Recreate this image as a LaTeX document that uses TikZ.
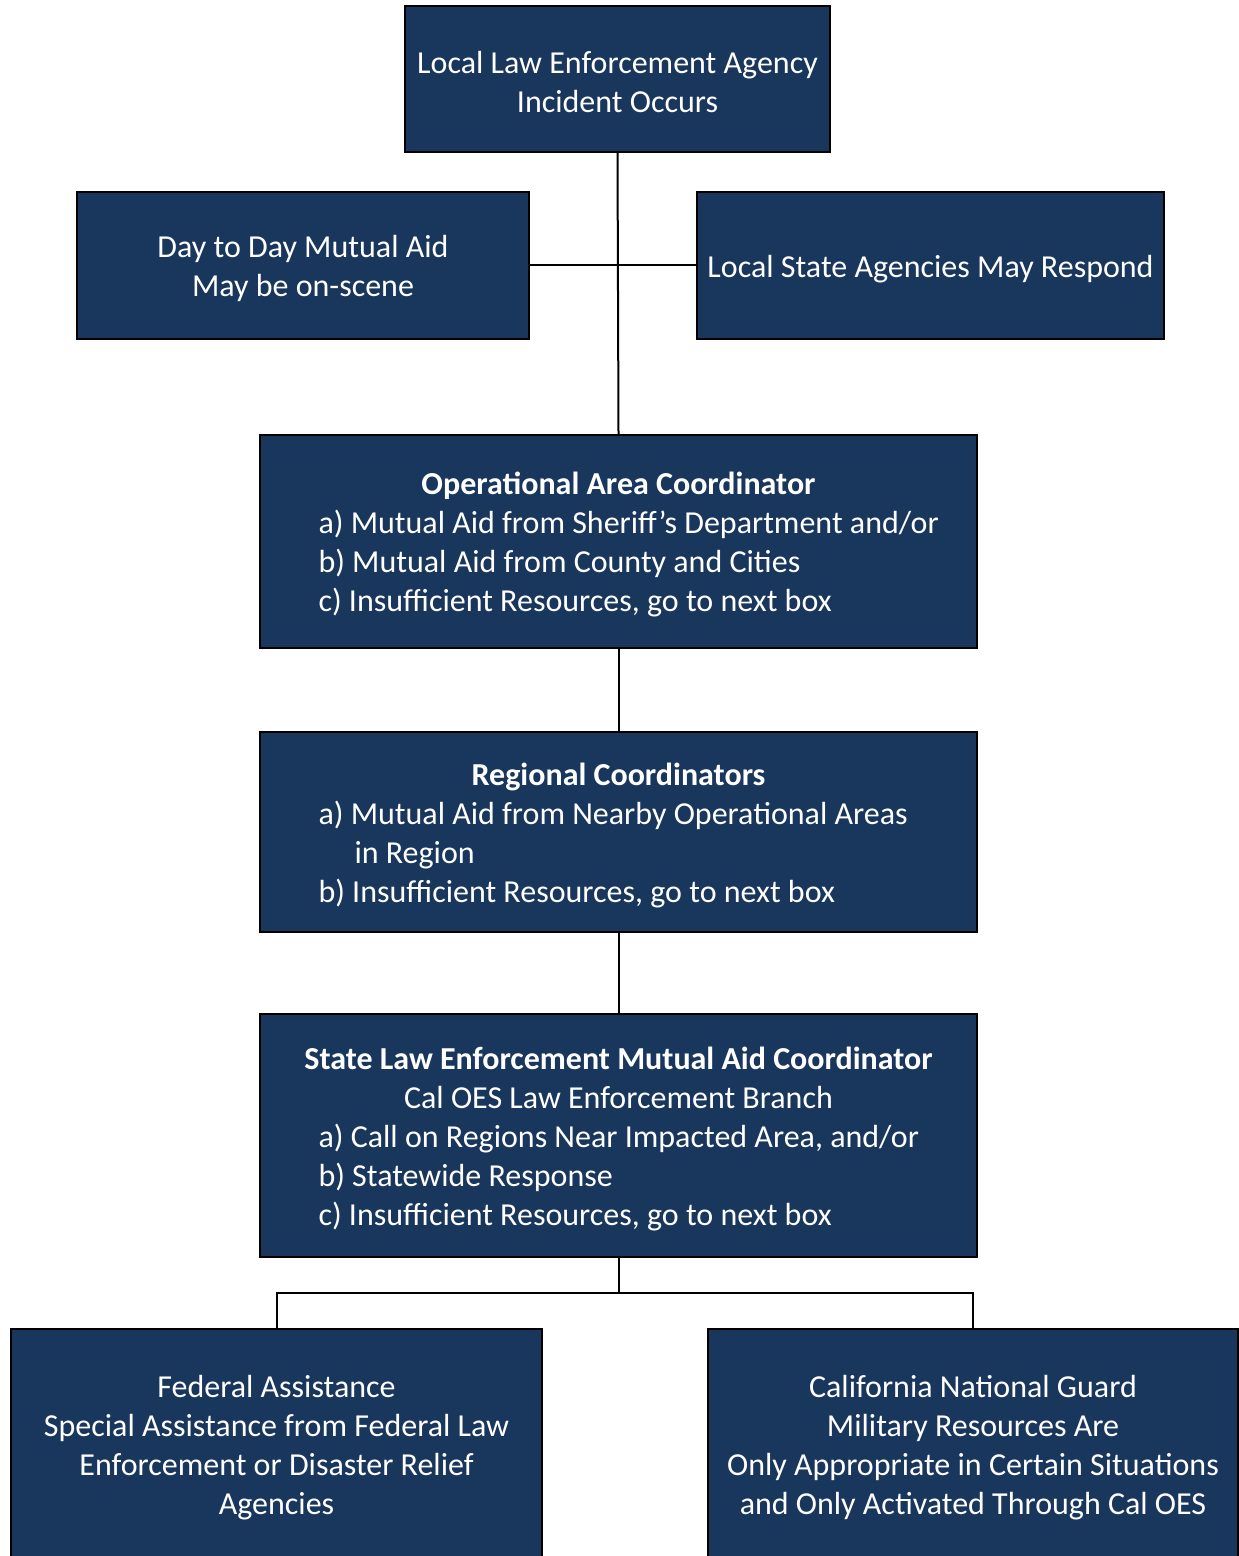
\documentclass[tikz,border=0pt]{standalone}
\usepackage{fontspec}
\setmainfont{Carlito}
\definecolor{navy}{RGB}{25,54,93}

\begin{document}
\begin{tikzpicture}[x=0.5pt,y=-0.5pt,%
        box/.style={rectangle, draw=black, line width=1.2pt, fill=navy,%
                        text=white, inner sep=0pt, align=center,%
                        font=\fontsize{16}{19.5}\selectfont,%
                        execute at begin node={\spaceskip=\fontdimen2\font%
                            \xspaceskip=\fontdimen2\font\rule{0pt}{14.5pt}}},
        list/.style={box, align=left, text width=300pt},
        link/.style={draw=black, line width=1pt}]
    \useasboundingbox (0,0) rectangle (1238,1556);
    % top row
    \node[box, text width=205pt, minimum width=212.5pt, minimum height=73pt] (inc) at (617.5,79)
        {Local Law Enforcement Agency\\Incident Occurs};
    \node[box, text width=215pt, minimum width=226pt, minimum height=73.5pt] (day) at (303,265.5)
        {Day to Day Mutual Aid\\May be on-scene};
    \node[box, text width=228pt, minimum width=233.5pt, minimum height=73.5pt] (lsa) at (930.5,265.5)
        {Local State Agencies May Respond};
    % coordinators
    \node[list, minimum width=358.5pt, minimum height=106.5pt] (opa) at (618.5,541.5)
        {\makebox[300pt]{\bfseries Operational Area Coordinator}\\
         \mbox{a) Mutual Aid from Sheriff’s Department and/or}\\
         b) Mutual Aid from County and Cities\\
         c) Insufficient Resources, go to next box};
    \node[list, minimum width=358.5pt, minimum height=100pt] (reg) at (618.5,832)
        {\makebox[300pt]{\bfseries Regional Coordinators}\\
         \mbox{a) Mutual Aid from Nearby Operational Areas}\\
         \hspace*{18pt}in Region\\
         b) Insufficient Resources, go to next box};
    \node[list, minimum width=358.5pt, minimum height=121.5pt] (stl) at (618.5,1135.5)
        {\makebox[300pt]{\bfseries State Law Enforcement Mutual Aid Coordinator}\\
         \makebox[300pt]{Cal OES Law Enforcement Branch}\\
         \mbox{a) Call on Regions Near Impacted Area, and/or}\\
         b) Statewide Response\\
         c) Insufficient Resources, go to next box};
    % bottom row
    \node[box, text width=258pt, minimum width=265.5pt, minimum height=115.5pt] (fed) at (276.5,1444.5)
        {Federal Assistance\\Special Assistance from Federal Law\\
         Enforcement or Disaster Relief\\Agencies};
    \node[box, text width=258pt, minimum width=265pt, minimum height=115.5pt] (cng) at (973,1444.5)
        {California National Guard\\Military Resources Are\\
         Only Appropriate in Certain Situations\\and Only Activated Through Cal OES};
    % connectors
    \coordinate (split) at (618.5,1293);
    \draw[link] (inc.south) -- (opa.north);
    \draw[link] (day.east) -- (lsa.west);
    \draw[link] (opa.south) -- (reg.north);
    \draw[link] (reg.south) -- (stl.north);
    \draw[link] (stl.south) -- (split) -| (fed.north);
    \draw[link] (split) -| (cng.north);
\end{tikzpicture}
\end{document}
